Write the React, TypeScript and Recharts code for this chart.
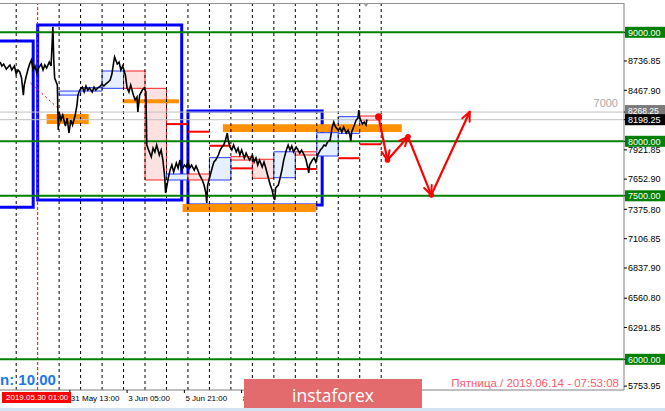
import React from 'react';
import { ComposedChart, Line, XAxis, YAxis, ReferenceLine, ReferenceArea } from 'recharts';

// hours counted from 2019.05.30 01:00, BTC price
const priceTicks: [number, number][] = [
  [-42, 8727], [-40, 8691], [-38, 8709], [-35, 8663], [-33, 8681], [-31, 8700], [-29, 8654], [-26, 8691],
  [-24, 8617], [-22, 8654], [-20, 8636], [-18, 8580], [-16, 8424], [-15, 8516], [-13, 8590], [-11, 8654],
  [-9, 8709], [-7, 8746], [-5, 8654], [-3, 8691], [-1, 8626], [1, 8672], [4, 8709], [6, 8654],
  [8, 8700], [10, 8672], [13, 8727], [15, 8691], [17, 9048], [18, 8746], [19, 8580], [22, 8516],
  [23, 8103], [24, 8269], [26, 8195], [28, 8241], [31, 8140], [33, 8213], [35, 8076], [37, 8195],
  [39, 8149], [42, 8241], [44, 8333], [45, 8424], [47, 8470], [50, 8498], [52, 8452], [54, 8507],
  [56, 8470], [58, 8489], [61, 8452], [63, 8498], [65, 8470], [67, 8489], [70, 8507], [72, 8525],
  [74, 8507], [76, 8525], [79, 8544], [81, 8562], [83, 8617], [85, 8727], [86, 8773], [89, 8709],
  [91, 8727], [93, 8654], [95, 8691], [98, 8608], [100, 8489], [102, 8452], [104, 8516], [107, 8424],
  [109, 8379], [111, 8406], [112, 8269], [114, 8424], [117, 8470], [119, 8489], [121, 8452], [122, 7966],
  [124, 7920], [127, 7856], [129, 7938], [131, 7902], [133, 7966], [136, 7874], [138, 7920], [140, 7828],
  [142, 7672], [143, 7525], [146, 7663], [148, 7736], [150, 7782], [152, 7718], [155, 7801], [157, 7755],
  [159, 7828], [161, 7736], [164, 7782], [166, 7764], [168, 7810], [170, 7755], [172, 7782], [175, 7736],
  [177, 7773], [179, 7736], [181, 7691], [184, 7645], [186, 7599], [188, 7525], [189, 7434], [190, 7599],
  [193, 7691], [195, 7755], [197, 7810], [199, 7828], [202, 7874], [204, 7920], [206, 7947], [208, 7966],
  [210, 8012], [212, 8076], [213, 8012], [215, 7947], [217, 7920], [219, 7966], [222, 7902], [224, 7938],
  [226, 7874], [228, 7920], [231, 7847], [233, 7892], [235, 7856], [237, 7828], [240, 7874], [242, 7810],
  [244, 7847], [246, 7782], [248, 7828], [251, 7764], [253, 7810], [255, 7755], [257, 7691], [260, 7599],
  [262, 7553], [264, 7480], [265, 7461], [266, 7571], [269, 7599], [271, 7663], [273, 7736], [275, 7828],
  [278, 7920], [280, 7966], [282, 7920], [284, 7957], [286, 7902], [289, 7947], [291, 7920], [293, 7892],
  [295, 7920], [298, 7874], [300, 7828], [302, 7755], [303, 7709], [304, 7782], [307, 7828], [309, 7847],
  [311, 7810], [313, 7874], [316, 7920], [318, 7938], [320, 7966], [322, 7957], [324, 7993], [327, 8012],
  [329, 8122], [331, 8177], [333, 8131], [336, 8103], [338, 8122], [340, 8085], [342, 8131], [345, 8076],
  [347, 8103], [349, 8057], [350, 8003], [351, 8085], [354, 8149], [356, 8195], [358, 8213], [359, 8287],
  [360, 8213], [363, 8158], [365, 8177], [367, 8149], [368, 8198],
];

// forecast arrows
const forecastPath: [number, number][] = [[381, 8226], [391, 7828], [414, 8042], [440, 7507], [483, 8271]];
const trendDots: [number, number][] = [[-8, 8535], [25, 8287]];

const dayBoxes = [
  { from: 24, to: 48, high: 8461, low: 8424, dir: 'up' },
  { from: 48, to: 72, high: 8492, low: 8461, dir: 'up' },
  { from: 72, to: 96, high: 8645, low: 8486, dir: 'up' },
  { from: 96, to: 120, high: 8645, low: 8486, dir: 'down' },
  { from: 120, to: 144, high: 8486, low: 7645, dir: 'down' },
  { from: 144, to: 168, high: 7700, low: 7645, dir: 'up' },
  { from: 168, to: 192, high: 7700, low: 7645, dir: 'down' },
  { from: 192, to: 216, high: 7850, low: 7645, dir: 'up' },
  { from: 216, to: 240, high: 7859, low: 7828, dir: 'down' },
  { from: 240, to: 264, high: 7835, low: 7661, dir: 'down' },
  { from: 264, to: 288, high: 7904, low: 7666, dir: 'up' },
  { from: 288, to: 312, high: 7904, low: 7874, dir: 'down' },
  { from: 312, to: 336, high: 8079, low: 7865, dir: 'up' },
  { from: 336, to: 360, high: 8226, low: 8073, dir: 'up' },
  { from: 360, to: 384, high: 8232, low: 8195, dir: 'down' },
];

const rangeBoxes = [
  { from: -70, to: -5, high: 8920, low: 7394 },
  { from: 0, to: 161, high: 9067, low: 7461 },
  { from: 168, to: 318, high: 8278, low: 7415 },
];

const zones = [
  { from: 10, to: 57, high: 8250, low: 8158 },
  { from: 95, to: 158, high: 8385, low: 8348 },
  { from: 162, to: 311, high: 7425, low: 7351 },
  { from: 207, to: 407, high: 8156, low: 8085 },
];

const pivots = [
  { from: 144, to: 168, level: 8158 },
  { from: 168, to: 192, level: 8088 },
  { from: 192, to: 216, level: 7959 },
  { from: 216, to: 240, level: 7752 },
  { from: 288, to: 312, level: 7746 },
  { from: 336, to: 360, level: 7845 },
  { from: 360, to: 384, level: 7973 },
];

const keyLevels = [9000, 8000, 7500, 6000];
const askBid = [8268.25, 8198.25];
const daySeparators = [-24, 24, 48, 72, 96, 120, 144, 168, 192, 216, 240, 264, 288, 312, 336, 360, 384];

const priceLabels = [9000, 8736.85, 8467.9, 8268.25, 8198.25, 8000, 7921.85, 7652.9, 7500, 7375.8, 7106.85, 6837.9, 6560.8, 6291.85, 6000, 5753.95];
const timeTickHours = [36, 100, 164, 228];
const timeTickLabels = ['31 May 13:00', '3 Jun 05:00', '5 Jun 21:00', '8 Jun 13:00'];

const priceData = priceTicks.map(([h, p]) => ({ h, p }));
const forecastData = forecastPath.map(([h, p]) => ({ h, p }));
const trendData = trendDots.map(([h, p]) => ({ h, p }));

const FONT = '"Liberation Sans", Arial, sans-serif';
const badge: Record<string, string> = {
  '9000.00': '#008000', '8000.00': '#008000', '7500.00': '#008000', '6000.00': '#008000',
  '8268.25': '#7a7a7a', '8198.25': '#000000',
};

function PriceTick(props: any) {
  const { x, y, payload } = props;
  const txt = Number(payload.value).toFixed(2);
  const bg = badge[txt];
  // ask label sits just above the bid label, nudge it up a bit
  const yy = txt === '8268.25' ? y - 1.5 : y;
  return (
    <g>
      {bg && <rect x={x - 3} y={yy - 5.5} width={40} height={11} fill={bg} />}
      <text x={x} y={yy} dy={3.3} fontSize={txt === '8268.25' ? 8.5 : 9} fontFamily={FONT} fill={bg ? '#fff' : '#000'}>{txt}</text>
    </g>
  );
}

function TimeTick(props: any) {
  const { x, payload } = props;
  const i = timeTickHours.indexOf(payload.value);
  return (
    <g>
      <line x1={x} x2={x} y1={390} y2={393} stroke="#000" />
      <text x={x + 1} y={401} fontSize={8} fontFamily={FONT} fill="#000">{timeTickLabels[i]}</text>
    </g>
  );
}

let lastPt: { x: number; y: number } | null = null;
function ArrowDot(props: any) {
  const { cx, cy, index, points } = props;
  const prev = points && points[index - 1] ? points[index - 1] : index > 0 ? lastPt : null;
  lastPt = { x: cx, y: cy };
  const heads: React.ReactNode[] = [];
  if (prev) {
    const a = Math.atan2(cy - prev.y, cx - prev.x);
    [-0.42, 0.42].forEach((d, k) => {
      heads.push(
        <line key={k} x1={cx} y1={cy} x2={cx - 10 * Math.cos(a + d)} y2={cy - 10 * Math.sin(a + d)}
          stroke="#ff0000" strokeWidth={2} strokeLinecap="round" />
      );
    });
  }
  return (
    <g key={`ad-${index}`}>
      {index < 4 && <circle cx={cx} cy={cy} r={index === 0 ? 3.5 : 2.8} fill="#ff0000" />}
      {heads}
    </g>
  );
}

export default function App() {
  return (
    <div style={{ position: 'absolute', left: 0, top: 0, width: 665, height: 411, overflow: 'hidden', background: '#fff', fontFamily: FONT }}>
      <ComposedChart width={665} height={411} margin={{ top: 3, right: 0, left: 0, bottom: 0 }}>
        <XAxis type="number" dataKey="h" domain={[-42.1, 655.4]} allowDataOverflow ticks={timeTickHours}
          interval={0} height={21} tick={TimeTick} tickLine={false} axisLine={{ stroke: '#808080' }} />
        <YAxis orientation="right" type="number" domain={[5718.4, 9268.8]} allowDataOverflow ticks={priceLabels}
          interval={0} width={41} tickSize={3} tickMargin={1} tick={PriceTick}
          axisLine={{ stroke: '#808080' }} tickLine={{ stroke: '#000' }} />

        {daySeparators.map((h) => (
          <ReferenceLine key={`d${h}`} x={h} stroke="#000" strokeDasharray="3 3" strokeWidth={1} />
        ))}
        <ReferenceLine x={0} stroke="#ff0000" strokeDasharray="3 2" strokeWidth={1} />

        {rangeBoxes.map((b, i) => (
          <ReferenceArea key={`r${i}`} x1={b.from} x2={b.to} y1={b.low} y2={b.high} ifOverflow="hidden"
            fill="none" fillOpacity={0} stroke="#0000ff" strokeWidth={3} />
        ))}
        {dayBoxes.map((b, i) => (
          <ReferenceArea key={`b${i}`} x1={b.from} x2={b.to} y1={b.low} y2={b.high} ifOverflow="hidden"
            fill={b.dir === 'up' ? '#e6f0fd' : '#fde0e0'} fillOpacity={1}
            stroke={b.dir === 'up' ? '#2a3cff' : '#ff2020'} strokeWidth={1} />
        ))}
        {zones.map((z, i) => (
          <ReferenceArea key={`z${i}`} x1={z.from} x2={z.to} y1={z.low} y2={z.high} ifOverflow="hidden"
            fill="#ff9000" fillOpacity={1} stroke="none" />
        ))}
        {pivots.map((p, i) => (
          <ReferenceLine key={`p${i}`} segment={[{ x: p.from, y: p.level }, { x: p.to, y: p.level }]}
            stroke="#ff0000" strokeWidth={2} />
        ))}
        {keyLevels.map((v) => (
          <ReferenceLine key={`k${v}`} y={v} stroke="#008000" strokeWidth={2} />
        ))}
        {askBid.map((v) => (
          <ReferenceLine key={`g${v}`} y={v} stroke="#c0c0c0" strokeWidth={1} />
        ))}

        <Line data={trendData} dataKey="p" stroke="#ff0000" strokeDasharray="2 3" strokeWidth={1}
          dot={false} isAnimationActive={false} />
        <Line data={priceData} dataKey="p" stroke="#000" strokeWidth={1.6} dot={false}
          isAnimationActive={false} type="linear" />
        <Line data={forecastData} dataKey="p" stroke="#ff0000" strokeWidth={2.2}
          dot={(p: any) => <ArrowDot key={`ad-${p.index}`} {...p} />} isAnimationActive={false} type="linear" />
      </ComposedChart>

      <div style={{ position: 'absolute', left: 0, top: 3, width: 624, height: 1, background: '#909090' }} />
      <div style={{ position: 'absolute', left: 363, top: 3, width: 0, height: 0, borderLeft: '3px solid transparent', borderRight: '3px solid transparent', borderTop: '4px solid #a0a0a0' }} />
      <div style={{ position: 'absolute', right: 47, top: 98, fontSize: 11, lineHeight: '11px', color: '#a8a8a8' }}>7000</div>
      <div style={{ position: 'absolute', left: 0, top: 372, fontSize: 15, lineHeight: '15px', fontWeight: 'bold', color: '#1a78ea', whiteSpace: 'nowrap' }}>n: 10.00</div>
      <div style={{ position: 'absolute', right: 46, top: 377, fontSize: 11.5, lineHeight: '12px', color: '#ff5a6a', whiteSpace: 'nowrap' }}>Пятница  /  2019.06.14  -  07:53:08</div>
      <div style={{ position: 'absolute', left: 2, top: 392, width: 69, height: 11, background: '#ff0000', color: '#fff', fontSize: 8, lineHeight: '11px', paddingLeft: 4, boxSizing: 'border-box', whiteSpace: 'nowrap' }}>2019.05.30 01:00</div>
      <div style={{ position: 'absolute', left: 244, top: 379, width: 178, height: 32, background: '#e46b6d', color: '#fff', fontSize: 17.5, lineHeight: '32px', textAlign: 'center', fontFamily: '"Open Sans", sans-serif' }}>instaforex</div>
      <div style={{ position: 'absolute', left: 0, top: 408, width: 665, height: 3, background: '#d4e3f4' }} />
    </div>
  );
}
